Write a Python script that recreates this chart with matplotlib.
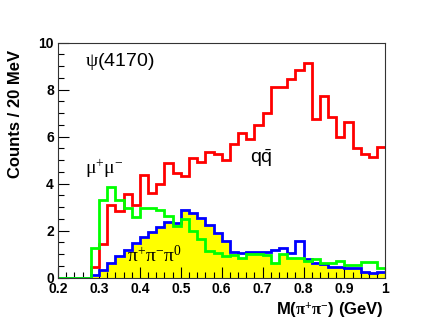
import matplotlib.pyplot as plt
import numpy as np

plt.rcParams['font.family'] = ['Liberation Sans', 'DejaVu Sans']
plt.rcParams['mathtext.fontset'] = 'custom'
plt.rcParams['mathtext.rm'] = 'Liberation Serif'
plt.rcParams['mathtext.it'] = 'Liberation Serif'
plt.rcParams['mathtext.bf'] = 'Liberation Serif:bold'
plt.rcParams['mathtext.sf'] = 'Liberation Sans'
plt.rcParams['mathtext.default'] = 'rm'

# 20 MeV bins from 0.2 to 1.0 GeV
bin_edges = np.linspace(0.2, 1.0, 41)

qqbar = [0, 0, 0, 0,
         0.47, 1.45, 3.10, 2.84, 3.58, 3.08, 4.36, 3.60, 4.00, 4.88,
         4.46, 4.32, 5.11, 4.91, 5.33, 5.26, 5.00, 5.70, 6.14, 5.92,
         6.49, 7.02, 8.12, 8.12, 8.46, 8.84, 9.14, 6.74, 7.71, 6.85,
         5.98, 6.62, 5.50, 5.25, 5.12, 5.57]

mumu = [0, 0, 0, 0,
        1.27, 3.30, 3.86, 3.30, 2.95, 2.60, 2.96, 2.96, 2.87, 2.62,
        2.22, 2.50, 1.97, 1.63, 1.12, 1.07, 0.92, 0.98, 0.86, 1.02,
        1.02, 0.98, 0.62, 1.02, 0.85, 0.82, 0.72, 0.78, 0.62, 0.62,
        0.72, 0.55, 0.54, 0.65, 0.65, 0.42]

blue_hist = [0, 0, 0, 0,
             0.12, 0.33, 0.62, 0.93, 1.18, 1.47, 1.75, 1.96, 2.17, 2.39,
             2.32, 2.89, 2.77, 2.53, 2.25, 1.89, 1.57, 1.11, 1.04, 1.10,
             1.10, 1.10, 1.20, 1.25, 1.04, 1.58, 0.80, 0.62, 0.60, 0.45,
             0.45, 0.40, 0.40, 0.26, 0.19, 0.26]

pipipi0 = [0, 0, 0, 0,
           0.05, 0.27, 0.55, 0.86, 1.10, 1.40, 1.68, 1.90, 2.10, 2.32,
           2.25, 2.82, 2.70, 2.46, 2.18, 1.82, 1.50, 1.00, 0.82, 0.98,
           0.98, 0.95, 0.60, 0.98, 0.82, 0.82, 0.70, 0.55, 0.55, 0.45,
           0.45, 0.40, 0.40, 0.24, 0.18, 0.24]

fig = plt.figure(figsize=(4.43, 3.2), dpi=100)
ax = fig.add_axes([0.131, 0.132, 0.739, 0.735])

ax.stairs(pipipi0, bin_edges, fill=True, color='#ffff00', zorder=1)
ax.stairs(qqbar, bin_edges, baseline=None, color='#ff0000', linewidth=2.0, zorder=2)
ax.stairs(blue_hist, bin_edges, baseline=None, color='#0000ff', linewidth=2.0, zorder=2)
ax.stairs(mumu, bin_edges, baseline=None, color='#00ff00', linewidth=2.0, zorder=2)

ax.set_xlim(0.2, 1.0)
ax.set_ylim(0, 10)
ax.set_xticks(np.arange(0.2, 1.01, 0.1))
ax.set_xticklabels(['0.2', '0.3', '0.4', '0.5', '0.6', '0.7', '0.8', '0.9', '1'])
ax.set_xticks(np.arange(0.2, 1.001, 0.02), minor=True)
ax.set_yticks([0, 2, 4, 6, 8, 10])
ax.set_yticks(np.arange(0, 10.01, 0.5), minor=True)
ax.tick_params(which='both', direction='in', width=0.8, labelsize=10, pad=3)
ax.tick_params(which='major', length=8)
ax.tick_params(which='minor', length=4)
for lab in ax.get_xticklabels() + ax.get_yticklabels():
    lab.set_fontweight('bold')
for sp in ax.spines.values():
    sp.set_linewidth(0.8)
    sp.set_color('#333333')

ax.text(0.266, 9.2, r'$\psi$(4170)', fontsize=14, va='center', ha='left')
ax.text(0.266, 4.65, r'$\mu^{+}\mu^{-}$', fontsize=14, va='center', ha='left')
ax.text(0.668, 5.1, r'$\mathsf{q\bar{q}}$', fontsize=14, va='center', ha='left')
ax.text(0.369, 0.95, r'$\pi^{+}\pi^{-}\pi^{0}$', fontsize=14, va='center', ha='left')

fig.text(0.035, 1 - 178 / 320, 'Counts / 20 MeV', rotation=90, fontsize=12,
         fontweight='bold', ha='center', va='bottom')
fig.text(384 / 443, 1 - 310 / 320, r'M($\mathbf{\pi^{+}\pi^{-}}$) (GeV)',
         fontsize=12, fontweight='bold', ha='right', va='center')

fig.savefig('out.png', dpi=100)
